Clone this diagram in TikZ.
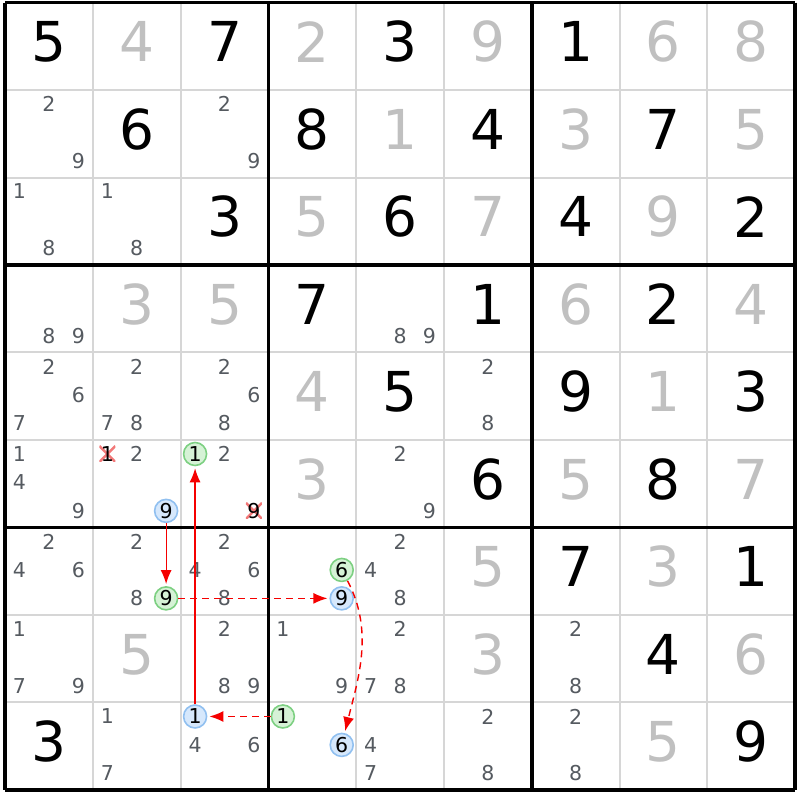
\documentclass[tikz,border=0pt]{standalone}
\usepackage{fontspec}
\setmainfont{DejaVu Sans}
\usetikzlibrary{arrows.meta}
\definecolor{candgray}{RGB}{85,90,96}
\definecolor{solvedgray}{RGB}{192,192,192}
\definecolor{gridgray}{RGB}{214,214,214}
\definecolor{hlgreen}{RGB}{125,208,130}
\definecolor{hlgreenbg}{RGB}{214,242,214}
\definecolor{hlblue}{RGB}{145,192,240}
\definecolor{hlbluebg}{RGB}{214,232,252}
\definecolor{chainred}{RGB}{245,0,0}
\definecolor{crossred}{RGB}{242,120,120}
\begin{document}
\begin{tikzpicture}[x=87.8pt,y=-87.5pt,%1マス
  given/.style={font=\fontsize{55}{55}\selectfont, inner sep=0pt},
  solved/.style={given, text=solvedgray},
  cand/.style={font=\fontsize{20.5}{20.5}\selectfont, text=candgray, inner sep=0pt},
  gmark/.style={cand, text=black, circle, draw=hlgreen, fill=hlgreenbg, line width=1.6pt, minimum size=23pt},
  bmark/.style={gmark, draw=hlblue, fill=hlbluebg},
  struck/.style={cand, text=black, minimum size=16pt, path picture={
      \draw[crossred, line width=2.5pt] (path picture bounding box.north west)--(path picture bounding box.south east)
        (path picture bounding box.south west)--(path picture bounding box.north east);}},
  link/.style={chainred, line width=1.2pt, -{Latex[length=14pt,width=11pt]}, shorten >=2pt},
  weak/.style={link, line width=1.4pt, dash pattern=on 7pt off 5pt}]
  \useasboundingbox (-0.057,-0.0286) rectangle (9.055,9.114);%余白
  \foreach \i in {1,...,8} {
    \draw[gridgray, line width=2pt] (\i,0)--(\i,9);
    \draw[gridgray, line width=2pt] (0,\i)--(9,\i);}%細線
  \foreach \i in {0,3,6,9} {
    \draw[line width=3.5pt] (\i,0)--(\i,9);
    \draw[line width=3.5pt] (0,\i)--(9,\i);}%太線
  \foreach \r/\c/\d in {0/0/5,0/2/7,0/4/3,0/6/1,1/1/6,1/3/8,1/5/4,1/7/7,2/2/3,2/4/6,2/6/4,2/8/2,
      3/3/7,3/5/1,3/7/2,4/4/5,4/6/9,4/8/3,5/5/6,5/7/8,6/6/7,6/8/1,7/7/4,8/0/3,8/8/9}
    \node[given] (v\r\c) at (\c+0.5,\r+0.45) {\d};%問題の数字
  \foreach \r/\c/\d in {0/1/4,0/3/2,0/5/9,0/7/6,0/8/8,1/4/1,1/6/3,1/8/5,2/3/5,2/5/7,2/7/9,
      3/1/3,3/2/5,3/6/6,3/8/4,4/3/4,4/7/1,5/3/3,5/6/5,5/8/7,6/5/5,6/7/3,7/1/5,7/5/3,7/8/6,8/7/5}
    \node[solved] (v\r\c) at (\c+0.5,\r+0.45) {\d};%解いた数字
  \foreach \r/\c/\ds in {1/0/{2,9},1/2/{2,9},2/0/{1,8},2/1/{1,8},3/0/{8,9},3/4/{8,9},
      4/0/{2,6,7},4/1/{2,7,8},4/2/{2,6,8},4/5/{2,8},5/0/{1,4,9},5/1/{2},5/2/{2},5/4/{2,9},
      6/0/{2,4,6},6/1/{2,8},6/2/{2,4,6,8},6/4/{2,4,8},7/0/{1,7,9},7/2/{2,8,9},7/3/{1,9},
      7/4/{2,7,8},7/6/{2,8},8/1/{1,7},8/2/{4,6},8/4/{4,7},8/5/{2,8},8/6/{2,8}}
    \foreach \d in \ds {
      \pgfmathsetmacro\cx{\c+0.165+0.335*mod(\d-1,3)}
      \pgfmathsetmacro\cy{\r+0.16+0.325*floor((\d-1)/3)}
      \node[cand] (p\r\c\d) at (\cx,\cy) {\d};}%候補
  \node[struck] (x1r5) at (1.165,5.16) {1};%消去
  \node[struck] (x9r5) at (2.835,5.81) {9};
  \node[bmark] (b9r5) at (1.835,5.81) {9};%チェーン
  \node[gmark] (g1r5) at (2.165,5.16) {1};
  \node[gmark] (g9r6) at (1.835,6.81) {9};
  \node[gmark] (g6r6) at (3.835,6.485) {6};
  \node[bmark] (b9r6) at (3.835,6.81) {9};
  \node[gmark] (g1r8) at (3.165,8.16) {1};
  \node[bmark] (b6r8) at (3.835,8.485) {6};
  \node[bmark] (b1r8) at (2.165,8.16) {1};
  \draw[link] (b9r5)--(g9r6);
  \draw[weak] (g9r6)--(b9r6);
  \draw[weak] (g6r6) to[out=-62,in=76,looseness=0.95] (b6r8);
  \draw[weak] (g1r8)--(b1r8);
  \draw[link] (b1r8)--(g1r5);
\end{tikzpicture}
\end{document}
